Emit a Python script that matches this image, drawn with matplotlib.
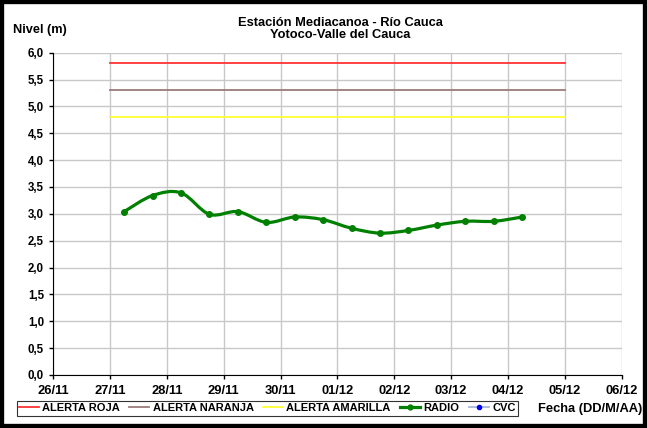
import matplotlib
matplotlib.use("Agg")
import matplotlib.pyplot as plt
from matplotlib.patches import PathPatch, Rectangle
from matplotlib.path import Path
from matplotlib.lines import Line2D
import numpy as np

plt.rcParams['font.family'] = ['Liberation Sans', 'DejaVu Sans']
plt.rcParams['font.weight'] = 'bold'

# days counted from 26/11 (0) to 06/12 (10)
tick_labels = ["26/11", "27/11", "28/11", "29/11", "30/11", "01/12",
               "02/12", "03/12", "04/12", "05/12", "06/12"]
alert_days = [1, 9]
alerta_roja = 5.8
alerta_naranja = 5.3
alerta_amarilla = 4.8
radio_days = [1.25, 1.75, 2.25, 2.75, 3.25, 3.75, 4.25, 4.75,
              5.25, 5.75, 6.25, 6.75, 7.25, 7.75, 8.25]
radio_level = [3.04, 3.34, 3.39, 2.99, 3.04, 2.84, 2.94, 2.89,
               2.73, 2.64, 2.69, 2.79, 2.86, 2.86, 2.94]


def smooth_path(x, y, t=1/6):
    # Bezier path through the points (like Excel's smoothed line)
    x = np.asarray(x); y = np.asarray(y)
    verts = [(x[0], y[0])]
    codes = [Path.MOVETO]
    n = len(x)
    for i in range(n - 1):
        p0 = (x[max(i - 1, 0)], y[max(i - 1, 0)])
        p1 = (x[i], y[i])
        p2 = (x[i + 1], y[i + 1])
        p3 = (x[min(i + 2, n - 1)], y[min(i + 2, n - 1)])
        c1 = (p1[0] + (p2[0] - p0[0]) * t, p1[1] + (p2[1] - p0[1]) * t)
        c2 = (p2[0] - (p3[0] - p1[0]) * t, p2[1] - (p3[1] - p1[1]) * t)
        verts += [c1, c2, p2]
        codes += [Path.CURVE4] * 3
    return Path(verts, codes)


fig = plt.figure(figsize=(6.47, 4.28), dpi=100)
ax = fig.add_axes([0.082, 0.124, 0.879, 0.753])

ax.plot(alert_days, [alerta_roja] * 2, color='#FF3333', lw=1.3)
ax.plot(alert_days, [alerta_naranja] * 2, color='#9C7B7B', lw=1.3)
ax.plot(alert_days, [alerta_amarilla] * 2, color='#FFFF33', lw=1.3)

ax.add_patch(PathPatch(smooth_path(radio_days, radio_level), fill=False,
                       edgecolor='#008000', lw=2.3, zorder=3))
ax.plot(radio_days, radio_level, 'o', color='#008000', ms=4, zorder=4)

ax.set_xlim(0, 10)
ax.set_ylim(0, 6)
ax.set_xticks(range(len(tick_labels)))
ax.set_xticklabels(tick_labels)
ax.set_yticks(np.arange(0, 6.01, 0.5))
ax.set_yticklabels([f"{v:.1f}".replace('.', ',') for v in np.arange(0, 6.01, 0.5)])
ax.tick_params(length=3, width=1)
ax.tick_params(axis='x', labelsize=9.3, pad=4)
ax.tick_params(axis='y', labelsize=8.3)
ax.grid(True, color='#C8C8C8', lw=1)
ax.set_axisbelow(True)
for s in ['top', 'right']:
    ax.spines[s].set_visible(False)

fig.text(0.526, 1 - 23.5 / 428, "Estación Mediacanoa - Río Cauca",
         ha='center', va='center', fontsize=9.3, fontweight='bold')
fig.text(0.526, 1 - 35.5 / 428, "Yotoco-Valle del Cauca",
         ha='center', va='center', fontsize=9.3, fontweight='bold')
fig.text(0.02, 1 - 30.5 / 428, "Nivel (m)", ha='left', va='center', fontsize=9.2,
         fontweight='bold')
fig.text(0.832, 0.044, "Fecha (DD/M/AA)", ha='left', va='center', fontsize=9.3,
         fontweight='bold')

handles = [Line2D([], [], color='#FF3333', lw=1.3),
           Line2D([], [], color='#9C7B7B', lw=1.3),
           Line2D([], [], color='#FFFF33', lw=1.3),
           Line2D([], [], color='#008000', lw=2.3, marker='o', ms=3.5),
           Line2D([], [], color='#A8B8D8', lw=1.3, marker='o', ms=3,
                  mfc='#0000FF', mec='#0000FF')]
leg = fig.legend(handles, ["ALERTA ROJA", "ALERTA NARANJA", "ALERTA AMARILLA", "RADIO", "CVC"],
                 loc='center left', bbox_to_anchor=(0.017, 0.046), ncol=5,
                 fontsize=8, frameon=True, fancybox=False, edgecolor='black',
                 handlelength=1.8, handletextpad=0.3, columnspacing=0.85,
                 borderpad=0.2)
leg.get_frame().set_linewidth(0.8)

fig.add_artist(Rectangle((0, 0), 1, 1, transform=fig.transFigure, fill=False,
                         edgecolor='black', lw=6))

fig.savefig("out.png", dpi=100)
